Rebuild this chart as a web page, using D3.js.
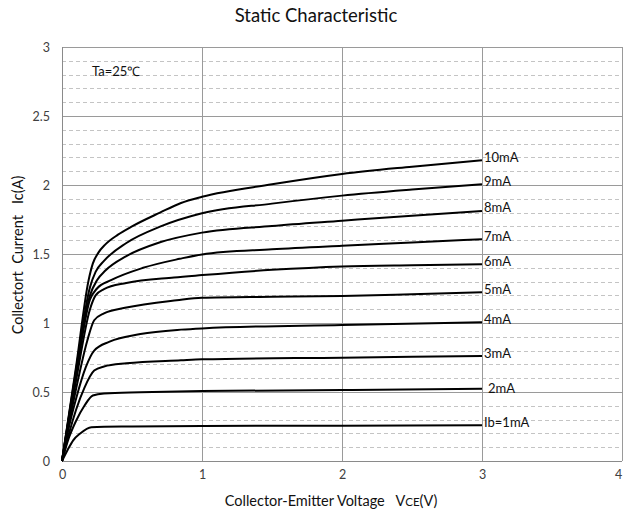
<!DOCTYPE html>
<html><head><meta charset="utf-8">
<script src="https://cdn.jsdelivr.net/npm/d3@7"></script>
<style>
html,body{margin:0;padding:0;background:#fff;}
svg{display:block;font-family:Lato,"Open Sans",sans-serif;}
</style></head>
<body><svg id="c" width="624" height="516"></svg>
<script>
const xTicks = [0,1,2,3,4];
const yTicks = [0,0.5,1,1.5,2,2.5,3];
const seriesNames = ["Ib=1mA","2mA","3mA","4mA","5mA","6mA","7mA","8mA","9mA","10mA"];
const ib1  = [[0,0],[0.04,0.08],[0.08,0.15],[0.13,0.2],[0.21,0.245],[0.5,0.25],[1,0.254],[2,0.256],[3,0.259]];
const ib2  = [[0,0],[0.05,0.17],[0.1,0.29],[0.16,0.4],[0.22,0.475],[0.3,0.49],[0.56,0.498],[1,0.507],[2,0.514],[3,0.524]];
const ib3  = [[0,0],[0.05,0.2],[0.1,0.37],[0.16,0.53],[0.23,0.655],[0.3,0.685],[0.46,0.708],[0.85,0.73],[1,0.737],[2,0.749],[3,0.761]];
const ib4  = [[0,0],[0.05,0.25],[0.1,0.45],[0.17,0.68],[0.23,0.80],[0.34,0.865],[0.56,0.92],[0.85,0.952],[1,0.961],[2,0.986],[3,1.005]];
const ib5  = [[0,0],[0.05,0.27],[0.1,0.52],[0.18,0.87],[0.23,1.02],[0.3,1.07],[0.45,1.11],[0.82,1.165],[1,1.183],[1.5,1.19],[2,1.196],[2.5,1.208],[3,1.222]];
const ib6  = [[0,0],[0.05,0.3],[0.1,0.58],[0.2,1.1],[0.24,1.2],[0.3,1.245],[0.46,1.29],[0.8,1.33],[1,1.347],[1.5,1.385],[2,1.41],[2.5,1.419],[3,1.425]];
const ib7  = [[0,0],[0.05,0.31],[0.1,0.62],[0.2,1.17],[0.25,1.25],[0.35,1.31],[0.58,1.40],[0.84,1.465],[1,1.497],[1.5,1.534],[2,1.56],[2.5,1.583],[3,1.607]];
const ib8  = [[0,0],[0.05,0.32],[0.1,0.64],[0.2,1.2],[0.25,1.31],[0.31,1.38],[0.46,1.485],[0.7,1.585],[1,1.655],[1.5,1.703],[2,1.741],[2.5,1.778],[3,1.812]];
const ib9  = [[0,0],[0.05,0.33],[0.1,0.66],[0.2,1.26],[0.24,1.37],[0.3,1.45],[0.46,1.58],[0.7,1.698],[1,1.795],[1.5,1.865],[2,1.923],[2.5,1.967],[3,2.005]];
const ib10 = [[0,0],[0.05,0.34],[0.1,0.68],[0.19,1.31],[0.22,1.43],[0.26,1.51],[0.31,1.57],[0.4,1.64],[0.5,1.70],[0.7,1.80],[0.85,1.87],[1,1.915],[1.5,2.005],[2,2.08],[2.5,2.133],[3,2.18]];
const allSeries = [ib1,ib2,ib3,ib4,ib5,ib6,ib7,ib8,ib9,ib10];

const svg = d3.select("#c");
const x = d3.scaleLinear().domain([0,4]).range([62,622]);
const y = d3.scaleLinear().domain([0,3]).range([461,47]);

// minor dashed grid
const minor = d3.range(1,30).map(i=>i/10).filter(v=>Math.abs(v*2-Math.round(v*2))>1e-6);
svg.append("g").selectAll("line").data(minor).join("line")
  .attr("x1",x(0)).attr("x2",x(4)).attr("y1",d=>Math.round(y(d))+0.5).attr("y2",d=>Math.round(y(d))+0.5)
  .attr("stroke","#c4c4c4").attr("stroke-width",1).attr("stroke-dasharray","4,3");
// major solid grid
svg.append("g").selectAll("line").data(yTicks.slice(1)).join("line")
  .attr("x1",x(0)).attr("x2",x(4)).attr("y1",d=>Math.round(y(d))+0.5).attr("y2",d=>Math.round(y(d))+0.5)
  .attr("stroke","#9a9a9a").attr("stroke-width",1);
svg.append("g").selectAll("line").data(xTicks.slice(1)).join("line")
  .attr("y1",y(0)).attr("y2",y(3)).attr("x1",d=>Math.round(x(d))+0.5).attr("x2",d=>Math.round(x(d))+0.5)
  .attr("stroke","#9a9a9a").attr("stroke-width",1);
// axes lines
svg.append("line").attr("x1",x(0)+0.5).attr("x2",x(0)+0.5).attr("y1",y(0)).attr("y2",y(3)).attr("stroke","#8a8a8a");
svg.append("line").attr("x1",x(0)).attr("x2",x(4)).attr("y1",Math.round(y(0))+0.5).attr("y2",Math.round(y(0))+0.5).attr("stroke","#8a8a8a");

// axes tick labels via d3 axes
const xa = svg.append("g").attr("transform",`translate(0,${y(0)})`)
  .call(d3.axisBottom(x).tickValues(xTicks).tickSize(0).tickPadding(9).tickFormat(d3.format("d")));
xa.select(".domain").remove();
xa.selectAll(".tick text").filter(d=>d===4).attr("dx",-4);
const ya = svg.append("g").attr("transform",`translate(${x(0)},0)`)
  .call(d3.axisLeft(y).tickValues(yTicks).tickSize(0).tickPadding(12).tickFormat(d=>String(d)));
ya.select(".domain").remove();
svg.selectAll(".tick text").attr("font-family","Lato,'Open Sans',sans-serif").attr("font-size",12.5).attr("fill","#404040");

// curves
const line = d3.line().x(d=>x(d[0])).y(d=>y(d[1])).curve(d3.curveMonotoneX);
svg.append("g").selectAll("path").data(allSeries).join("path")
  .attr("d",line).attr("fill","none").attr("stroke","#000").attr("stroke-width",2).attr("stroke-linejoin","round");

// end labels
svg.append("g").selectAll("text").data(allSeries).join("text")
  .attr("x",(d,i)=>x(d[d.length-1][0]) + (i===1?6:2))
  .attr("y",(d,i)=>y(d[d.length-1][1]) + (i===1?0:-3))
  .attr("dy","0.35em").attr("font-size",13).attr("fill","#111")
  .text((d,i)=>seriesNames[i]);

// annotation
svg.append("text").attr("x",92).attr("y",76).attr("font-size",13).attr("fill","#111").text("Ta=25℃");

// title
svg.append("text").attr("x",316).attr("y",22).attr("text-anchor","middle").attr("font-size",18.5).attr("fill","#111").text("Static Characteristic");

// axis titles
const xt = svg.append("text").attr("x",331).attr("y",506).attr("text-anchor","middle").attr("font-size",14.5).attr("fill","#111");
xt.append("tspan").text("Collector-Emitter Voltage\u00a0\u00a0\u00a0V");
xt.append("tspan").attr("font-size",11.5).text("CE");
xt.append("tspan").text("(V)");
svg.append("text").attr("transform","translate(23,255) rotate(-90)").attr("text-anchor","middle").attr("font-size",14.5).attr("fill","#111")
  .text("Collectort\u00a0\u00a0Current\u00a0\u00a0\u00a0Ic(A)");
</script></body></html>
